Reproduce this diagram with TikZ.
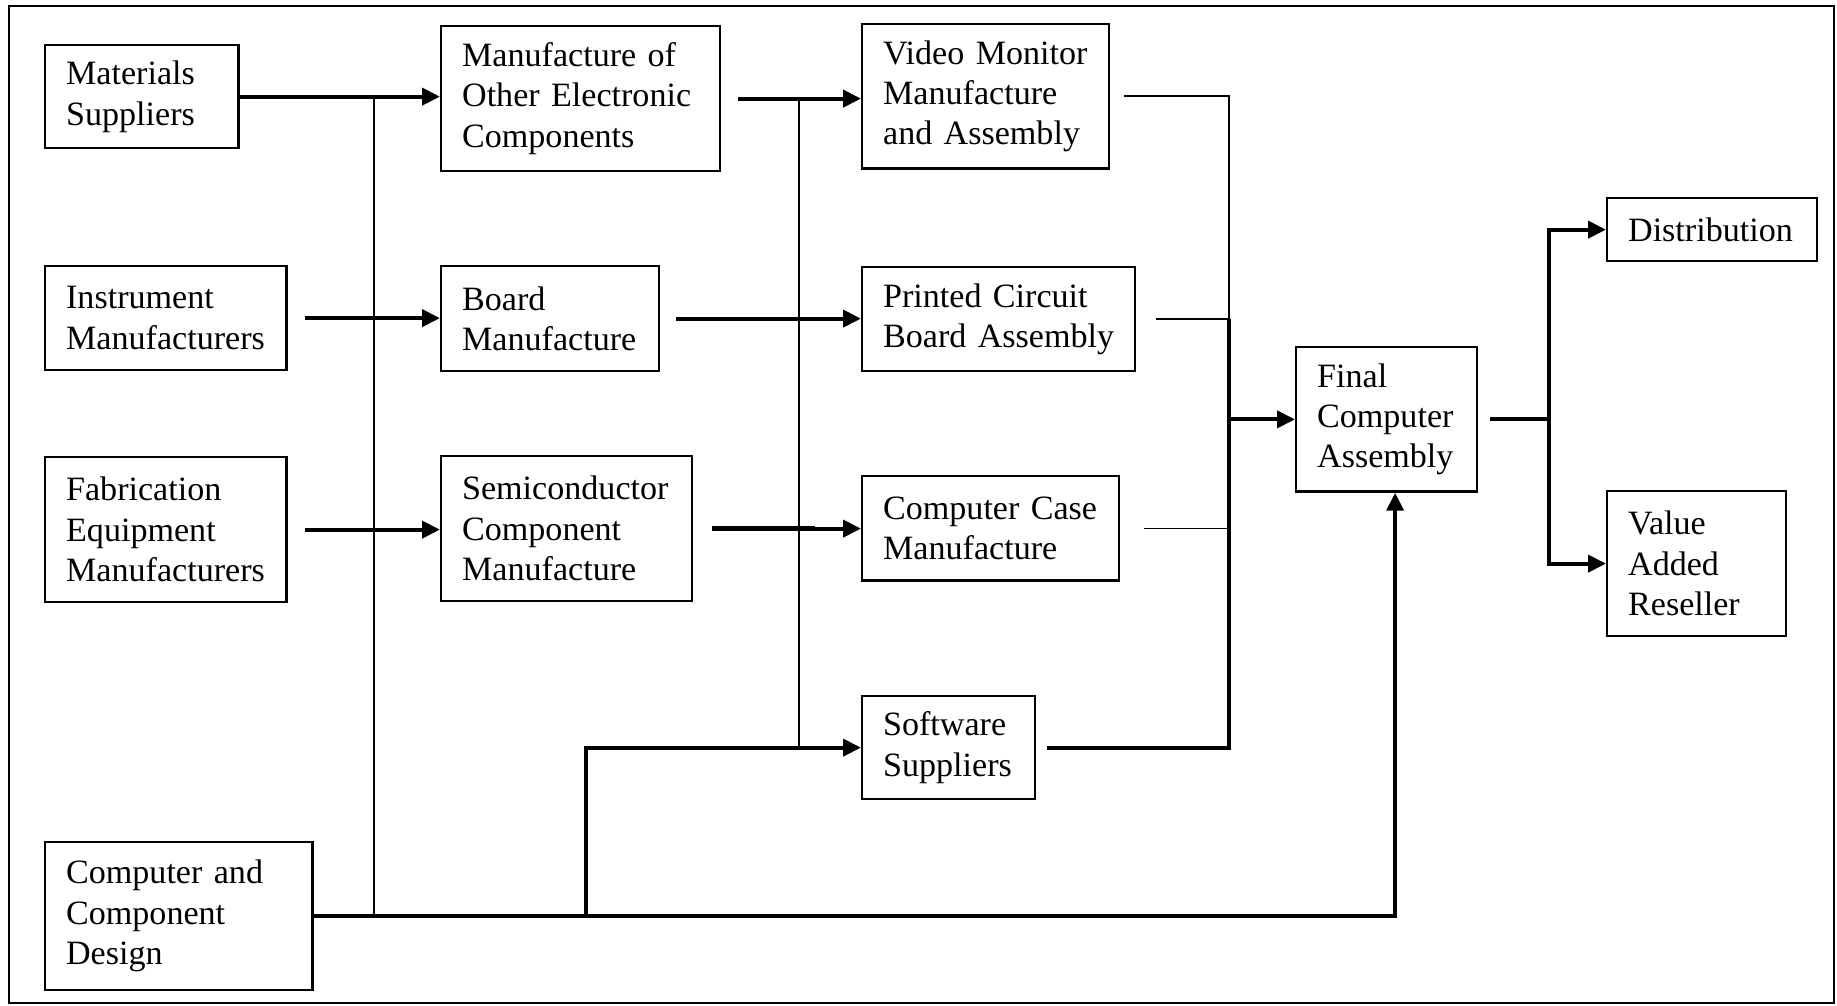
\documentclass[tikz,border=0pt]{standalone}
\usepackage{fontspec}
\setmainfont{Liberation Serif}
\usetikzlibrary{arrows.meta}
\hyphenpenalty=10000

\tikzset{
  box/.style={draw, line width=1.3pt, anchor=north west, align=left,
    inner xsep=0.42cm, inner ysep=0pt, font=\fontsize{19.4}{23}\selectfont},
  thinline/.style={line width=1pt},
  thickline/.style={line width=2.3pt},
  arrowline/.style={thickline, -{Triangle[length=0.36cm,width=0.34cm]}}
}

\begin{document}
\begin{tikzpicture}[x=0.02cm, y=-0.02cm]
  \useasboundingbox (0,0) rectangle (1837,1006);
  \draw[line width=1.6pt] (9,6) rectangle (1834,1003);

  \node[box, text width=3.03cm, minimum height=2.06cm] (mat) at (44,44) {Materials\\Suppliers};
  \node[box, text width=3.99cm, minimum height=2.08cm] (inst) at (44,265) {Instrument\\Manufacturers};
  \node[box, text width=3.99cm, minimum height=2.9cm] (fab) at (44,456) {Fabrication\\Equipment\\Manufacturers};
  \node[box, text width=4.51cm, minimum height=2.96cm] (ccd) at (44,841) {Computer~and\\Component\\Design};

  \node[box, text width=4.74cm, minimum height=2.9cm] (other) at (440,25) {Manufacture~of\\Other~Electronic\\Components};
  \node[box, text width=3.52cm, minimum height=2.1cm] (board) at (440,265) {Board\\Manufacture};
  \node[box, text width=4.18cm, minimum height=2.9cm] (semi) at (440,455) {Semiconductor\\Component\\Manufacture};

  \node[box, text width=4.10cm, minimum height=2.89cm] (video) at (861,23) {Video~Monitor\\Manufacture\\and~Assembly};
  \node[box, text width=4.62cm, minimum height=2.08cm] (pcb) at (861,266) {Printed~Circuit\\Board~Assembly};
  \node[box, text width=4.30cm, minimum height=2.09cm] (case) at (861,475) {Computer~Case\\Manufacture};
  \node[box, text width=2.62cm, minimum height=2.06cm] (soft) at (861,695) {Software\\Suppliers};

  \node[box, text width=2.78cm, minimum height=2.89cm] (final) at (1295,346) {Final\\Computer\\Assembly};
  \node[box, text width=3.36cm, minimum height=1.26cm] (dist) at (1606,197) {Distribution};
  \node[box, text width=2.74cm, minimum height=2.9cm] (var) at (1606,490) {Value\\Added\\Reseller};

  \coordinate (busA) at (374,0);
  \coordinate (busS) at (586,0);
  \coordinate (busB) at (799,0);
  \coordinate (busC) at (1229,0);
  \coordinate (busD) at (1549,0);

  \draw[arrowline] (mat.east) -- (mat.east -| other.west);
  \draw[arrowline, shorten <=0.34cm] (inst.east) -- (inst.east -| board.west);
  \draw[arrowline, shorten <=0.34cm] (fab.east) -- (fab.east -| semi.west);
  \draw[thinline] (mat.east -| busA) -- (ccd.east -| busA);
  \draw[arrowline] (ccd.east) -| ([xshift=0.17cm]final.south);
  \draw[arrowline] (ccd.east -| busS) |- (soft.west);

  \draw[arrowline, shorten <=0.34cm] (other.east) -- (other.east -| video.west);
  \draw[arrowline, shorten <=0.32cm] (board.east) -- (board.east -| pcb.west);
  \draw[arrowline, shorten <=0.38cm] (semi.east) -- (semi.east -| case.west);
  \draw[line width=3.2pt] ([xshift=0.38cm]semi.east) -- ++(103,0);
  \draw[thinline] (other.east -| busB) -- (soft.west -| busB);

  \draw[thinline, shorten <=0.28cm] (video.east) -| (pcb.east -| busC);
  \draw[thinline, shorten <=0.4cm] (pcb.east) -- (pcb.east -| busC);
  \draw[thinline, shorten <=0.48cm] (case.east) -- (case.east -| busC);
  \draw[thickline, shorten <=0.22cm] (soft.east) -| (pcb.east -| busC);
  \draw[arrowline] (final.west -| busC) -- (final.west);

  \draw[thickline, shorten <=0.24cm] (final.east) -- (final.east -| busD);
  \draw[arrowline] (final.east -| busD) |- (dist.west);
  \draw[arrowline] (final.east -| busD) |- (var.west);
\end{tikzpicture}
\end{document}
